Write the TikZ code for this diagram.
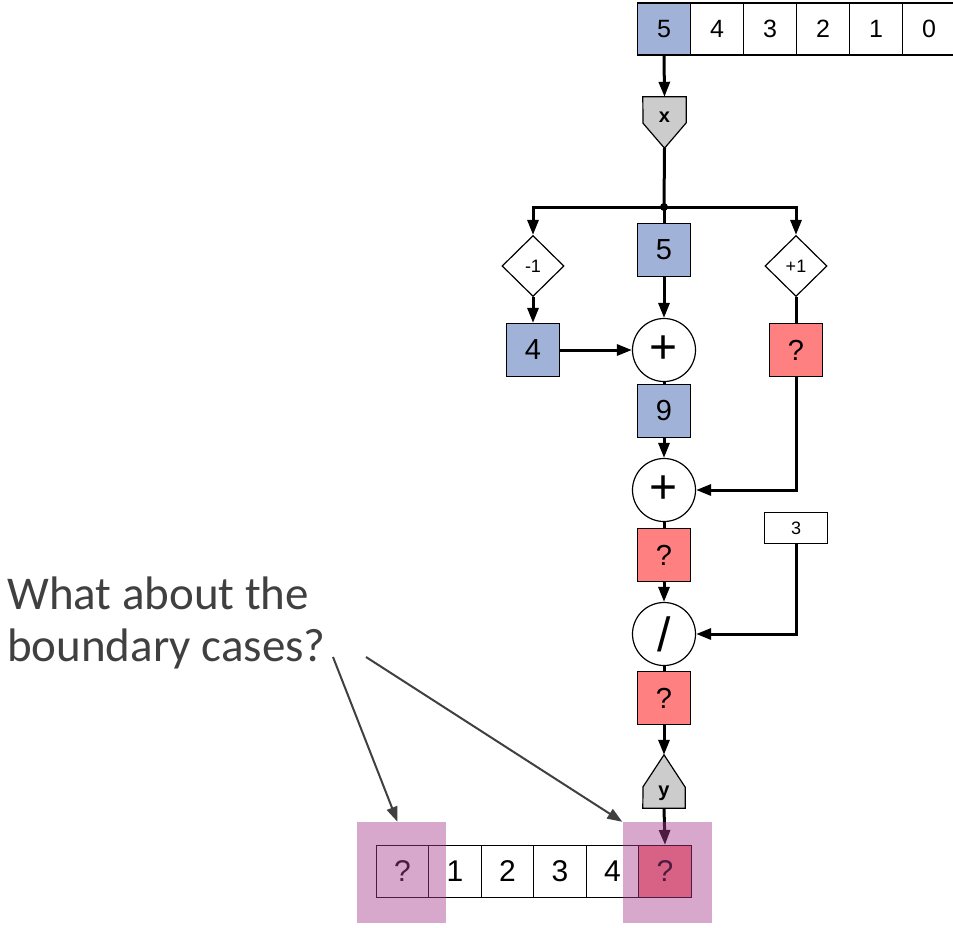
\documentclass[tikz,border=0pt]{standalone}
\usepackage{fontspec}
\setmainfont{Liberation Sans}
\newfontfamily\calloutfont{Carlito}
\usetikzlibrary{arrows.meta,shapes.geometric}

\begin{document}
\begin{tikzpicture}[x=1pt,y=-1pt,
  box/.style={draw=black,line width=1.2pt,minimum width=53pt,minimum height=53pt,inner sep=0pt,font=\fontsize{29}{29}\selectfont},
  cell/.style={box,minimum width=52.5pt,minimum height=52pt,fill=white},
  op/.style={draw=black,line width=1.2pt,circle,fill=white,minimum size=63pt,inner sep=0pt,font=\fontsize{48}{48}\selectfont},
  step-op/.style={draw=black,line width=1.2pt,diamond,aspect=1,fill=white,minimum width=62pt,minimum height=61pt,inner sep=0pt,font=\fontsize{18}{18}\selectfont},
  port/.style={draw=black,line width=1.2pt,fill=pt_gray},
  flow/.style={line width=3pt,draw=black},
  flowarr/.style={flow,-{Triangle[length=15pt,width=11pt]}},
  hl/.style={fill=hl_pink,fill opacity=0.45,inner sep=0pt,minimum width=89pt,minimum height=101pt},
  callout/.style={line width=2pt,draw=tx_dark,-{Triangle[length=15pt,width=11pt]}}]

% ------------------------------------------------ colors
\definecolor{bx_blue}{RGB}{160,178,215}  %#A0B2D7
\definecolor{bx_red}{RGB}{255,128,128}   %#FF8080
\definecolor{pt_gray}{RGB}{204,204,204}  %#CCCCCC
\definecolor{hl_pink}{RGB}{169,62,142}   %#A93E8E
\definecolor{tx_dark}{RGB}{64,64,64}     %#404040

\useasboundingbox (0,0) rectangle (953,927);

% input array
\node[cell,fill=bx_blue,font=\fontsize{25}{25}\selectfont] (t0) at (664,29) {5};
\foreach \v [count=\i] in {4,3,2,1,0}
  \node[cell,font=\fontsize{25}{25}\selectfont] (t\i) at (664+\i*53,29) {\v};

% read port x
\node[minimum width=43pt,minimum height=51pt,inner sep=0pt] (xin) at (664.5,122.5) {};
\draw[port] (xin.north west) -- (xin.north east) -- ++(0,26) -- (xin.south) -- ++(-21.5,-25) -- cycle;
\node[font=\fontsize{20}{20}\bfseries] (xlab) at (664.5,117) {x};

\coordinate (split) at (664,207);

% neighbours and sums
\node[step-op] (dec) at (533,266) {-1};
\node[step-op] (inc) at (796,266) {+1};
\node[box,fill=bx_blue] (five) at (664,250) {5};
\node[box,fill=bx_blue] (four) at (533,350) {4};
\node[box,fill=bx_red] (q1) at (796,350) {?};
\node[op] (sum1) at (664,350) {+};
\node[box,fill=bx_blue] (nine) at (664,411) {9};
\node[op] (sum2) at (664,490) {+};
\node[box,fill=bx_red] (q2) at (664,555) {?};
\node[draw=black,line width=1.2pt,minimum width=63pt,minimum height=31pt,inner sep=0pt,font=\fontsize{18}{18}\selectfont] (three) at (796,528) {3};
\node[op] (quot) at (664,634) {/};
\node[box,fill=bx_red] (q3) at (664,698) {?};

% write port y
\node[minimum width=42pt,minimum height=53pt,inner sep=0pt] (yout) at (664,781.5) {};
\draw[port] (yout.south west) -- (yout.south east) -- ++(0,-21) -- (yout.north) -- ++(-21,32) -- cycle;
\node[font=\fontsize{20}{20}\bfseries] (ylab) at (664,793) {y};

% output array
\foreach \v [count=\i from 0] in {?,1,2,3,4}
  \node[cell,font=\fontsize{30}{30}\selectfont] (b\i) at (402.5+\i*52.5,871.5) {\v};
\node[cell,fill=bx_red,font=\fontsize{30}{30}\selectfont] (b5) at (665,871.5) {?};

% data flow
\draw[flowarr] (t0.south) -- (xin.north);
\draw[flow] (xin.south) -- (split);
\fill (split) circle (4);
\draw[flowarr] (split) -| (dec.north);
\draw[flowarr] (split) -| (inc.north);
\draw[flow] (split) -- (five.north);
\draw[flowarr] (five.south) -- (sum1.north);
\draw[flowarr] (dec.south) -- (four.north);
\draw[flowarr] (four.east) -- (sum1.west);
\draw[flow] (inc.south) -- (q1.north);
\draw[flow] (sum1.south) -- (nine.north);
\draw[flowarr] (nine.south) -- (sum2.north);
\draw[flowarr] (q1.south) |- (sum2.east);
\draw[flow] (sum2.south) -- (q2.north);
\draw[flowarr] (q2.south) -- (quot.north);
\draw[flowarr] (three.south) |- (quot.east);
\draw[flow] (quot.south) -- (q3.north);
\draw[flowarr] (q3.south) -- (yout.north);
\draw[flowarr] (yout.south) -- (b5.north);

% boundary highlights
\node[hl] (hlL) at (401.5,872.5) {};
\node[hl] (hlR) at (667,872.5) {};

% question
\node[anchor=north west,align=left,inner sep=0pt,text=tx_dark,font=\calloutfont\fontsize{47}{52}\selectfont] (question) at (7,577) {What about the\\boundary cases?};
\coordinate (c1) at (333,657);
\coordinate (c2) at (366,657);
\draw[callout] (c1) -- ([xshift=-4pt]hlL.north);
\draw[callout] (c2) -- (hlR.north west);

\end{tikzpicture}
\end{document}
